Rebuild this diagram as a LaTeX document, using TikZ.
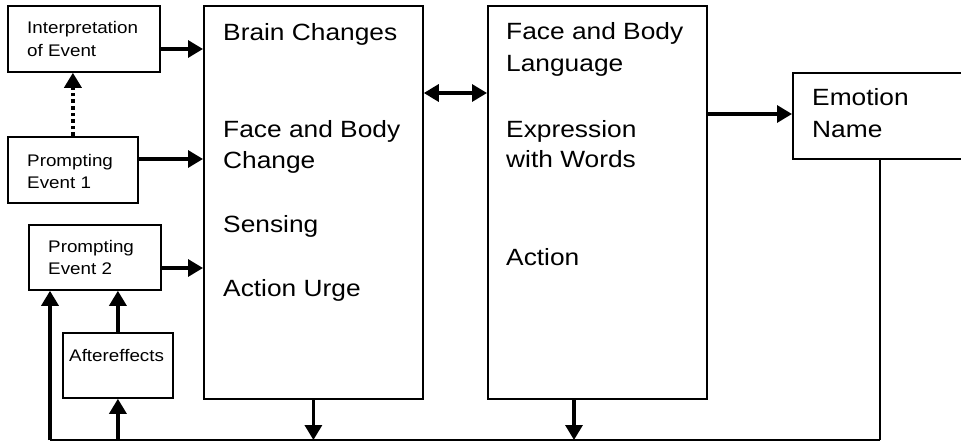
\documentclass[tikz,border=0pt]{standalone}
\usepackage{fontspec}
\setmainfont[FakeStretch=1.12]{Liberation Sans}
\usetikzlibrary{arrows.meta}
\begin{document}
\begin{tikzpicture}[x=1pt,y=-1pt,
  box/.style={draw, line width=1.8pt, inner sep=0pt, anchor=north west},
  tip/.style={},
  arr/.style={line width=3.2pt, -{Triangle[length=15pt,width=17pt]}},
  darr/.style={line width=3.2pt, {Triangle[length=15pt,width=17pt]}-{Triangle[length=15pt,width=17pt]}},
  dotarr/.style={line width=3.6pt, dash pattern=on 3.6pt off 3pt, -{Triangle[length=15pt,width=17pt]}},
  big/.style={font=\fontsize{23.5}{26}\selectfont, anchor=base west, inner sep=0pt},
  small/.style={font=\fontsize{16.8}{19}\selectfont, anchor=base west, inner sep=0pt}]
\useasboundingbox (0,0) rectangle (961,444);
\clip (0,0) rectangle (961,444);
% boxes
\node[box, minimum width=152pt, minimum height=66pt] (interp) at (7,5) {};
\node[box, minimum width=130pt, minimum height=66pt] (pe1) at (7,136) {};
\node[box, minimum width=132pt, minimum height=65pt] (pe2) at (28,224) {};
\node[box, minimum width=110pt, minimum height=65pt] (after) at (62,332) {};
\node[box, minimum width=219pt, minimum height=393pt] (brain) at (203,5) {};
\node[box, minimum width=219pt, minimum height=393pt] (expr) at (487,5) {};
\node[box, minimum width=250pt, minimum height=86pt] (emo) at (792,72) {};
% texts
\node[small] (t1) at (27,34) {Interpretation};
\node[small] (t2) at (27,57) {of Event};
\node[small] (t3) at (27,166) {Prompting};
\node[small] (t4) at (27,188) {Event 1};
\node[small] (t5) at (48,252) {Prompting};
\node[small] (t6) at (48,274) {Event 2};
\node[small] (t7) at (69,361) {Aftereffects};
\node[big] (b1) at (223,40.5) {Brain Changes};
\node[big] (b2) at (223,137) {Face and Body};
\node[big] (b3) at (223,168) {Change};
\node[big] (b4) at (223,232) {Sensing};
\node[big] (b5) at (223,296.5) {Action Urge};
\node[big] (e1) at (506,40) {Face and Body};
\node[big] (e2) at (506,72) {Language};
\node[big] (e3) at (506,137) {Expression};
\node[big] (e4) at (506,167.5) {with Words};
\node[big] (e5) at (506,265) {Action};
\node[big] (m1) at (812,105) {Emotion};
\node[big] (m2) at (812,137.5) {Name};
% helper coordinates
\coordinate (bl) at (50,440);
\coordinate (br) at (880,440);
\coordinate (d2) at (574,440);
% connectors
\draw[arr] (interp.east |- 0,49) -- (brain.west |- 0,49);
\draw[arr] (pe1.east |- 0,159) -- (brain.west |- 0,159);
\draw[arr] (pe2.east |- 0,268) -- (brain.west |- 0,268);
\draw[dotarr] (pe1.north) -- (interp.south -| pe1.north);
\draw[darr] (brain.east |- 0,93) -- (expr.west |- 0,93);
\draw[arr] (expr.east |- 0,114) -- (emo.west |- 0,114);
\draw[line width=1.8pt] (br |- emo.south) -- (br);
\draw[line width=2.8pt] (br) -- (bl);
\draw[arr] (brain.south) -- (brain.south |- bl);
\draw[arr] (expr.south -| d2) -- (d2);
\draw[arr] (bl) -- (bl |- pe2.south);
\draw[arr] (after.south |- bl) -- (after.south);
\draw[arr] (after.north) -- (pe2.south -| after.north);
\end{tikzpicture}
\end{document}
